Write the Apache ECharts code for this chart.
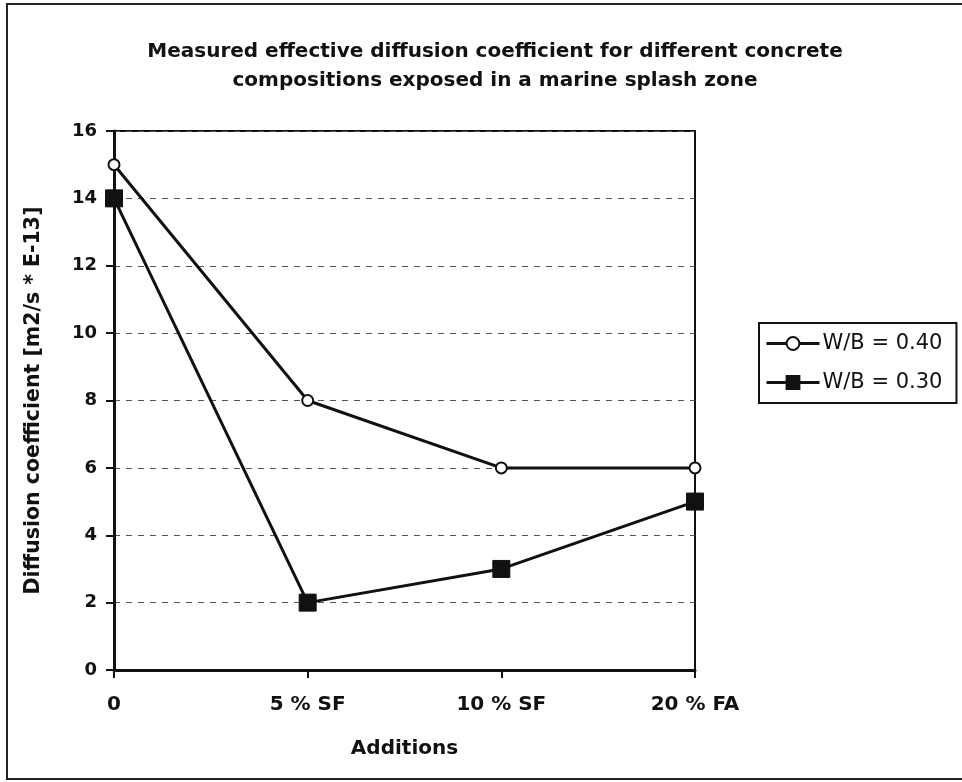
<!DOCTYPE html>
<html><head><meta charset="utf-8">
<script src="https://cdn.jsdelivr.net/npm/echarts@6/dist/echarts.min.js"></script>
<style>html,body{margin:0;padding:0;background:#fff}#c{width:962px;height:782px}</style>
</head><body><div id="c"></div>
<script>
const categories = ['0', '5 % SF', '10 % SF', '20 % FA'];
const wb040 = [15, 8, 6, 6];
const wb030 = [14, 2, 3, 5];
const seriesNames = ['W/B = 0.40', 'W/B = 0.30'];
const titleText = 'Measured effective diffusion coefficient for different concrete\ncompositions exposed in a marine splash zone';
const yName = 'Diffusion coefficient [m2/s * E-13]';
const xName = 'Additions';

const chart = echarts.init(document.getElementById('c'), null, {renderer: 'canvas'});
const F = '"DejaVu Sans", sans-serif';
chart.setOption({
  animation: false,
  backgroundColor: '#fff',
  title: {
    text: titleText, left: 490, top: 32, textAlign: 'center',
    textStyle: {fontFamily: F, fontWeight: 'bold', fontSize: 20, lineHeight: 29, color: '#111'}
  },
  graphic: [{
    type: 'polyline', shape: {points: [[962, 4], [7, 4], [7, 779], [962, 779]]},
    style: {fill: 'none', stroke: '#222', lineWidth: 2}, z: -1
  }],
  grid: {left: 114, right: 267, top: 131, bottom: 112, show: true, borderColor: '#111', borderWidth: 2, backgroundColor: 'transparent'},
  legend: {
    data: seriesNames, orient: 'vertical', left: 759, top: 323,
    itemWidth: 53, itemHeight: 16, itemGap: 18,
    padding: [10, 14, 10, 6], borderColor: '#111', borderWidth: 2, backgroundColor: '#fff',
    lineStyle: {width: 3},
    textStyle: {fontFamily: F, fontSize: 21, color: '#111', padding: [0, 0, 0, -2]}
  },
  xAxis: {
    type: 'category', data: categories, boundaryGap: false,
    name: xName, nameLocation: 'middle', nameGap: 69,
    nameTextStyle: {fontFamily: F, fontWeight: 'bold', fontSize: 20, color: '#111'},
    axisLine: {lineStyle: {color: '#111', width: 3}},
    axisTick: {show: true, length: 8, lineStyle: {color: '#111', width: 2}},
    axisLabel: {fontFamily: F, fontWeight: 'bold', fontSize: 20, color: '#111', margin: 25},
    splitLine: {show: false}
  },
  yAxis: {
    type: 'value', min: 0, max: 16, interval: 2,
    name: yName, nameLocation: 'middle', nameGap: 70, nameRotate: 90,
    nameTextStyle: {fontFamily: F, fontWeight: 'bold', fontSize: 20.5, color: '#111'},
    axisLine: {show: true, lineStyle: {color: '#111', width: 3}},
    axisTick: {show: true, length: 8, lineStyle: {color: '#111', width: 2}},
    axisLabel: {fontFamily: F, fontWeight: 'bold', fontSize: 18, color: '#111', margin: 17},
    splitLine: {show: true, lineStyle: {color: '#555', type: [6, 6], width: 1}}
  },
  series: [
    {name: seriesNames[0], type: 'line', data: wb040, symbol: 'circle', symbolSize: 11,
     lineStyle: {color: '#111', width: 3}, itemStyle: {color: '#fff', borderColor: '#111', borderWidth: 2}, z: 3},
    {name: seriesNames[1], type: 'line', data: wb030, symbol: 'rect', symbolSize: 17,
     lineStyle: {color: '#111', width: 3}, itemStyle: {color: '#111', borderColor: '#111', borderWidth: 1}, z: 4}
  ]
});
</script></body></html>
